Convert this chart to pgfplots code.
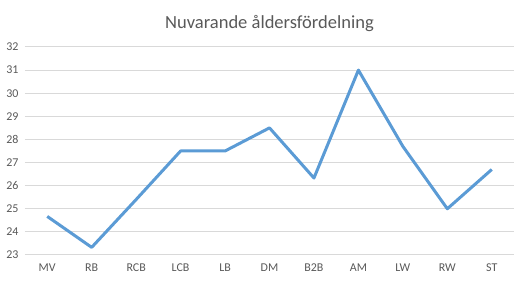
\documentclass[border=0pt]{standalone}
\usepackage{pgfplots}
\pgfplotsset{compat=1.18}
\usepackage{fontspec}
\setmainfont{Carlito}
\definecolor{lineblue}{HTML}{5B9BD5}
\definecolor{gridgray}{HTML}{D9D9D9}
\definecolor{labelgray}{HTML}{595959}
\begin{document}
\begin{tikzpicture}
\begin{axis}[
  scale only axis,
  width=489bp, height=208bp,
  xmin=-0.5, xmax=10.5,
  ymin=23, ymax=32,
  ytick={23,24,...,32},
  xtick={0,...,10},
  xticklabels={MV,RB,RCB,LCB,LB,DM,B2B,AM,LW,RW,ST},
  axis line style={draw=none},
  ymajorgrids, grid style={gridgray, line width=1bp},
  major tick length=0pt,
  tick label style={font=\fontsize{12}{13}\selectfont, text=labelgray},
  /pgf/number format/assume math mode=true,
  yticklabel style={xshift=-3bp},
  xticklabel style={yshift=-5bp},
  title={Nuvarande åldersfördelning},
  title style={font=\fontsize{18.6}{20}\selectfont, text=labelgray, yshift=6bp},
]
\addplot[lineblue, line width=3bp, line join=round, mark=none] coordinates {
(0,24.67) (1,23.33) (2,25.4) (3,27.5) (4,27.5) (5,28.5) (6,26.33) (7,31) (8,27.7) (9,25) (10,26.7)
};
\end{axis}
\pgfresetboundingbox
\path (current axis.south west) ++(-25bp,-26bp) rectangle ([shift={(6bp,47bp)}]current axis.north east);
\end{tikzpicture}
\end{document}
